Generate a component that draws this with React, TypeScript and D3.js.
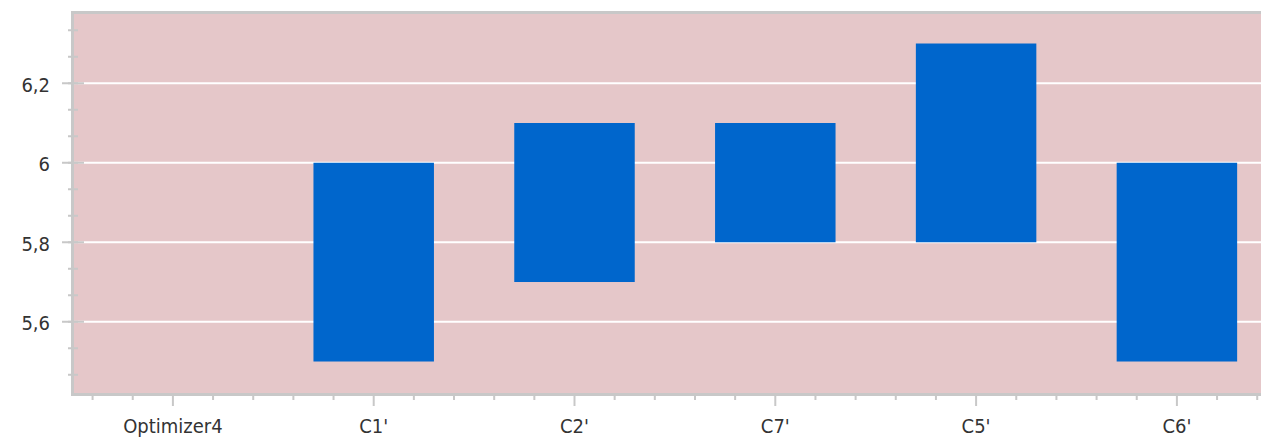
import React, { useEffect, useRef } from 'react';
import * as d3 from 'd3';

const categories = ['Optimizer4', "C1'", "C2'", "C7'", "C5'", "C6'"];
// floating range bars: [low, high]; null = no bar
const lowValues: (number | null)[] = [null, 5.5, 5.7, 5.8, 5.8, 5.5];
const highValues: (number | null)[] = [null, 6.0, 6.1, 6.1, 6.3, 6.0];
const yTicks = [5.6, 5.8, 6.0, 6.2];
const yTickLabels = ['5,6', '5,8', '6', '6,2'];

const W = 1261;
const H = 437;

export default function App() {
  const svgRef = useRef<SVGSVGElement>(null);

  useEffect(() => {
    if (!svgRef.current) return;
    const svg = d3.select(svgRef.current);
    svg.selectAll('*').remove();

    const left = 72.5;
    const top = 12.5;
    const bottom = 394.5;
    const step = 200.8;
    const right = left + step * categories.length;

    const x = d3.scaleLinear().domain([-0.5, categories.length - 0.5]).range([left, right]);
    const y = d3.scaleLinear().domain([5.417, 6.378]).range([bottom, top]);

    const font = "'DejaVu Sans Condensed', 'DejaVu Sans', sans-serif";
    const tickColor = '#c8c8c8';

    // plot background
    svg
      .append('rect')
      .attr('x', left)
      .attr('y', top)
      .attr('width', right - left)
      .attr('height', bottom - top)
      .attr('fill', '#e5c7c9');

    // grid lines
    svg
      .append('g')
      .selectAll('line')
      .data(yTicks)
      .enter()
      .append('line')
      .attr('x1', left)
      .attr('x2', right)
      .attr('y1', (d) => y(d))
      .attr('y2', (d) => y(d))
      .attr('stroke', '#ffffff')
      .attr('stroke-width', 2);

    // bars
    const barW = step * 0.6;
    const bars = categories
      .map((c, i) => ({ i, lo: lowValues[i], hi: highValues[i] }))
      .filter((d) => d.lo != null && d.hi != null);

    svg
      .append('g')
      .selectAll('rect')
      .data(bars)
      .enter()
      .append('rect')
      .attr('x', (d) => x(d.i) - barW / 2)
      .attr('y', (d) => y(d.hi as number))
      .attr('width', barW)
      .attr('height', (d) => y(d.lo as number) - y(d.hi as number))
      .attr('fill', '#0066cc');

    // frame
    svg
      .append('path')
      .attr('d', `M${right},${top}H${left}V${bottom}H${right}`)
      .attr('fill', 'none')
      .attr('stroke', tickColor)
      .attr('stroke-width', 3);

    // y minor ticks
    const yMinor = d3.range(5.4, 6.4001, 0.2 / 3).filter((v) => v > 5.417 && v < 6.378);
    svg
      .append('g')
      .selectAll('line')
      .data(yMinor)
      .enter()
      .append('line')
      .attr('x1', left - 4.5)
      .attr('x2', left + 5.5)
      .attr('y1', (d) => y(d))
      .attr('y2', (d) => y(d))
      .attr('stroke', tickColor)
      .attr('stroke-width', 2);

    // y major ticks
    svg
      .append('g')
      .selectAll('line')
      .data(yTicks)
      .enter()
      .append('line')
      .attr('x1', left - 10.5)
      .attr('x2', left + 11.5)
      .attr('y1', (d) => y(d))
      .attr('y2', (d) => y(d))
      .attr('stroke', tickColor)
      .attr('stroke-width', 2);

    // y labels
    svg
      .append('g')
      .selectAll('text')
      .data(yTicks)
      .enter()
      .append('text')
      .attr('x', 50)
      .attr('y', (d) => y(d) + 8.5)
      .attr('text-anchor', 'end')
      .style('font-family', font)
      .style('font-size', '20px')
      .style('fill', '#333333')
      .text((d, i) => yTickLabels[i]);

    // x minor ticks
    const xMinor = d3.range(-0.4, categories.length - 0.5, 0.2);
    svg
      .append('g')
      .selectAll('line')
      .data(xMinor)
      .enter()
      .append('line')
      .attr('x1', (d) => x(d))
      .attr('x2', (d) => x(d))
      .attr('y1', bottom)
      .attr('y2', (d) => (Math.abs(d - Math.round(d)) < 0.01 ? bottom + 11.5 : bottom + 5.5))
      .attr('stroke', tickColor)
      .attr('stroke-width', 2);

    // x labels
    svg
      .append('g')
      .selectAll('text')
      .data(categories)
      .enter()
      .append('text')
      .attr('x', (d, i) => x(i))
      .attr('y', 433)
      .attr('text-anchor', 'middle')
      .style('font-family', font)
      .style('font-size', '20px')
      .style('fill', '#333333')
      .text((d) => d);
  }, []);

  return (
    <svg
      ref={svgRef}
      width={W}
      height={H}
      style={{ position: 'absolute', left: 0, top: 0, overflow: 'hidden', background: '#ffffff' }}
    ></svg>
  );
}
